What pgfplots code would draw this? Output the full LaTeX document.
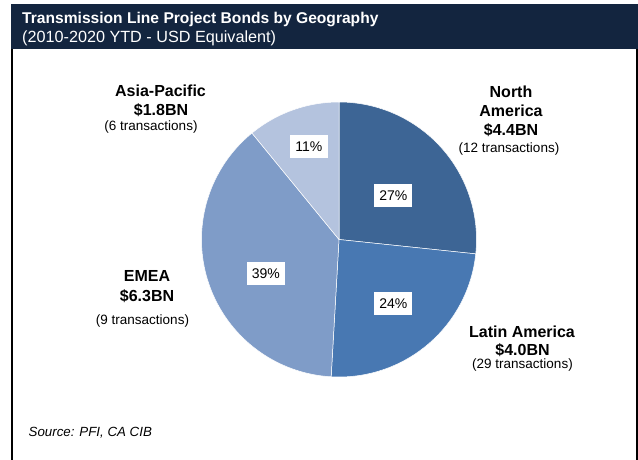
\documentclass[border=0pt]{standalone}
\usepackage{fontspec}
\setmainfont{Liberation Sans}
\usepackage{pgfplots}
\pgfplotsset{compat=1.18}

\definecolor{titlebar}{HTML}{13253F}
\definecolor{cNA}{HTML}{3D6595}
\definecolor{cLA}{HTML}{4878B2}
\definecolor{cEMEA}{HTML}{7F9CC8}
\definecolor{cAP}{HTML}{B4C3DE}

% bond volume by region, USD bn
\def\vNA{4.4}
\def\vLA{4.0}
\def\vEMEA{6.3}
\def\vAP{1.8}
\pgfmathsetmacro\total{\vNA+\vLA+\vEMEA+\vAP}
% slice edges, clockwise from 12 o'clock
\pgfmathsetmacro\aA{90}
\pgfmathsetmacro\aB{\aA-360*\vNA/\total}
\pgfmathsetmacro\aC{\aB-360*\vLA/\total}
\pgfmathsetmacro\aD{\aC-360*\vEMEA/\total}
\pgfmathsetmacro\aE{\aD-360*\vAP/\total}

\def\cx{339}
\def\cy{239.5}
\def\rr{137.5}

\newcommand\lbl{\fontsize{16}{18}\selectfont\bfseries}
\newcommand\sm{\fontsize{13.5}{15}\selectfont}

\begin{document}
\begin{tikzpicture}
\begin{axis}[
    width=638pt, height=460pt,
    scale only axis,
    xmin=0, xmax=638,
    ymin=0, ymax=460,
    y dir=reverse,
    hide axis,
    clip=false,
]
    % page extent
    \path (axis cs:0,0) rectangle (axis cs:638,460);
    % frame
    \fill[titlebar] (axis cs:11,4) rectangle (axis cs:638,49.5);
    \fill[black] (axis cs:11,49) rectangle (axis cs:13.3,460);
    \fill[black] (axis cs:635.7,49) rectangle (axis cs:638,460);
    \node[anchor=base west, text=white, font=\fontsize{15.6}{18}\selectfont\bfseries, inner sep=0]
        at (axis cs:22,24) {Transmission Line Project Bonds by Geography};
    \node[anchor=base west, text=white, font=\fontsize{16.2}{18}\selectfont, inner sep=0]
        at (axis cs:22,43) {(2010-2020 YTD - USD Equivalent)};

    % slices
    \addplot[fill=cNA, draw=white, line width=0.5pt, domain=\aB:\aA, samples=90, variable=\t]
        ({\cx+\rr*cos(\t)}, {\cy-\rr*sin(\t)}) -- (axis cs:\cx,\cy) -- cycle;
    \addplot[fill=cLA, draw=white, line width=0.5pt, domain=\aC:\aB, samples=90, variable=\t]
        ({\cx+\rr*cos(\t)}, {\cy-\rr*sin(\t)}) -- (axis cs:\cx,\cy) -- cycle;
    \addplot[fill=cEMEA, draw=white, line width=0.5pt, domain=\aD:\aC, samples=120, variable=\t]
        ({\cx+\rr*cos(\t)}, {\cy-\rr*sin(\t)}) -- (axis cs:\cx,\cy) -- cycle;
    \addplot[fill=cAP, draw=white, line width=0.5pt, domain=\aE:\aD, samples=50, variable=\t]
        ({\cx+\rr*cos(\t)}, {\cy-\rr*sin(\t)}) -- (axis cs:\cx,\cy) -- cycle;

    % percentage boxes
    \tikzset{pct/.style={fill=white, minimum width=38pt, minimum height=23pt, inner sep=0,
        font=\fontsize{14}{16}\selectfont}}
    \node[pct] at (axis cs:393.3,195.3) {27\%};
    \node[pct] at (axis cs:393.3,303.7) {24\%};
    \node[pct] at (axis cs:265.8,273.3) {39\%};
    \node[pct] at (axis cs:308.8,146.7) {11\%};

    % region labels
    \node[anchor=base, font=\lbl, inner sep=0] at (axis cs:511,97.3) {North};
    \node[anchor=base, font=\lbl, inner sep=0] at (axis cs:511,116.7) {America};
    \node[anchor=base, font=\lbl, inner sep=0] at (axis cs:511,135.3) {\$4.4BN};
    \node[anchor=base, font=\sm, inner sep=0] at (axis cs:509,153) {(12 transactions)};

    \node[anchor=base, font=\lbl, inner sep=0] at (axis cs:160.5,96.7) {Asia-Pacific};
    \node[anchor=base, font=\lbl, inner sep=0] at (axis cs:161,115.7) {\$1.8BN};
    \node[anchor=base, font=\sm, inner sep=0] at (axis cs:151,131) {(6 transactions)};

    \node[anchor=base, font=\lbl, inner sep=0] at (axis cs:147,281.7) {EMEA};
    \node[anchor=base, font=\lbl, inner sep=0] at (axis cs:147,301) {\$6.3BN};
    \node[anchor=base, font=\sm, inner sep=0] at (axis cs:142.5,324) {(9 transactions)};

    \node[anchor=base, font=\lbl, inner sep=0] at (axis cs:522,337.3) {Latin America};
    \node[anchor=base, font=\lbl, inner sep=0] at (axis cs:522.5,355.7) {\$4.0BN};
    \node[anchor=base, font=\sm, inner sep=0] at (axis cs:522.5,368.3) {(29 transactions)};

    \node[anchor=base west, font=\fontsize{13.3}{15}\selectfont\itshape, inner sep=0]
        at (axis cs:28.5,436) {Source: PFI, CA CIB};
\end{axis}
\end{tikzpicture}
\end{document}
